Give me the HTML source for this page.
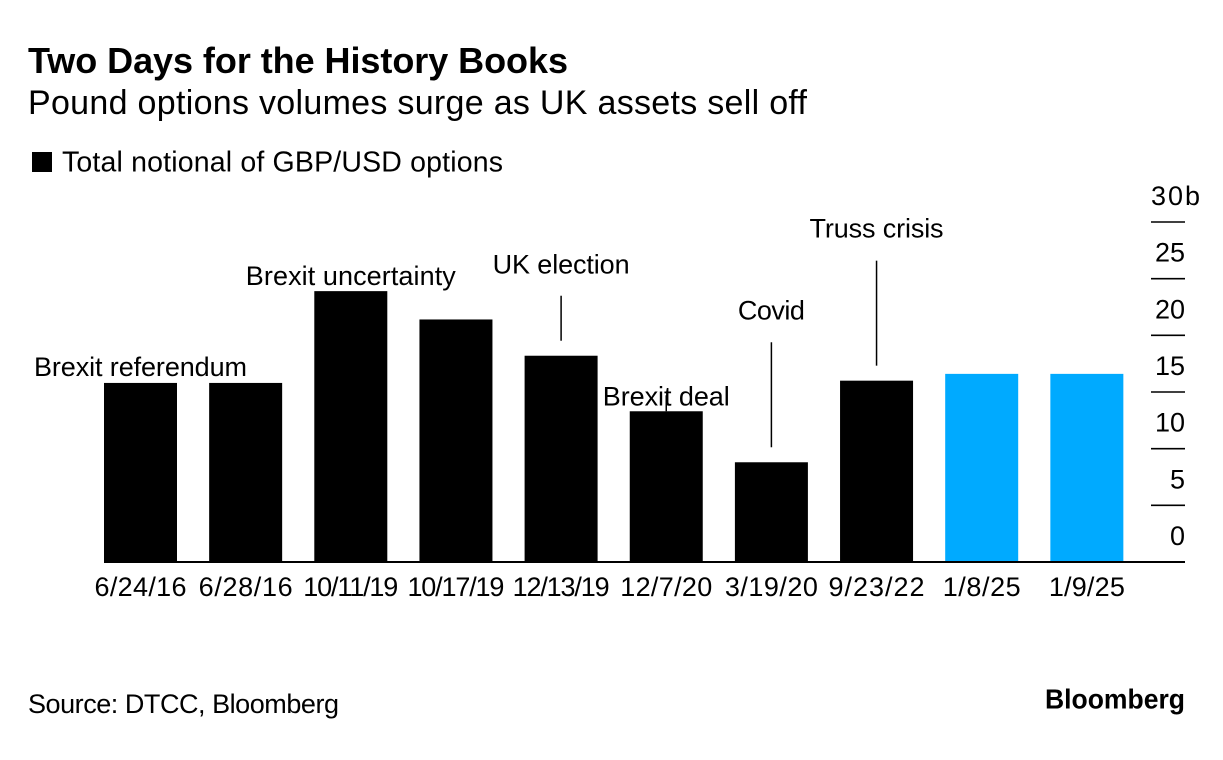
<!DOCTYPE html>
<html lang="en">
<head>
<meta charset="utf-8">
<title>Two Days for the History Books</title>
<style>
  html, body { margin: 0; padding: 0; background: #fff; }
  svg { display: block; font-family: "Liberation Sans", sans-serif; fill: #000; }
</style>
</head>
<body>
<svg id="chart" xmlns="http://www.w3.org/2000/svg" width="1223" height="760" viewBox="0 0 1223 760">
  <rect x="0" y="0" width="1223" height="760" fill="#fff"/>
  <text x="28" y="73" font-size="36" font-weight="700" textLength="540" lengthAdjust="spacing">Two Days for the History Books</text>
  <text x="28" y="114" font-size="34" textLength="779" lengthAdjust="spacing">Pound options volumes surge as UK assets sell off</text>
  <rect x="32" y="152" width="20" height="20" fill="#000"/>
  <text x="62" y="171.5" font-size="28.5" textLength="441" lengthAdjust="spacing">Total notional of GBP/USD options</text>
  <g id="bars"></g>
  <g id="annotations"></g>
  <g id="y-axis"></g>
  <g id="x-axis"></g>
  <text x="28" y="713" font-size="27" textLength="311" lengthAdjust="spacing">Source: DTCC, Bloomberg</text>
  <text x="1045" y="708.5" font-size="28" font-weight="700" textLength="140" lengthAdjust="spacingAndGlyphs">Bloomberg</text>
</svg>
<script>
const categories = ["6/24/16","6/28/16","10/11/19","10/17/19","12/13/19","12/7/20","3/19/20","9/23/22","1/8/25","1/9/25"];
const values = [15.8,15.8,23.9,21.4,18.2,13.3,8.8,16.0,16.6,16.6];
const highlighted = [false,false,false,false,false,false,false,false,true,true];
const yTicks = [0,5,10,15,20,25,30];
const yTickLabels = ["0","5","10","15","20","25","30b"];
const annotationLabels = ["Brexit referendum","","Brexit uncertainty","","UK election","Brexit deal","Covid","Truss crisis","",""];

const NS = "http://www.w3.org/2000/svg";
const plot = { left: 104, step: 105.15, barWidth: 73, base: 562, top: 222, max: 30, tickX1: 1151, tickX2: 1185 };
const yScale = v => plot.base - (v / plot.max) * (plot.base - plot.top);
const xScale = i => plot.left + i * plot.step;
const xCenter = i => xScale(i) + plot.barWidth / 2;

// Text-fitting widths, matched to the reference typeface's metrics
const fontSizeLabel = 27;
const labelFit = {
  "6/24/16": 92, "6/28/16": 94, "10/11/19": 95, "10/17/19": 97, "12/13/19": 97,
  "12/7/20": 92, "3/19/20": 93, "9/23/22": 96, "1/8/25": 78, "1/9/25": 76,
  "Brexit referendum": 213, "Brexit uncertainty": 210, "UK election": 137,
  "Brexit deal": 127, "Covid": 67, "Truss crisis": 134, "30b": 49
};

// Annotation layout: gap between label baseline and bar top, and optional leader line
const annotationLayout = {
  "Brexit referendum": { labelRise: 7, dx: 0, line: null },
  "Brexit uncertainty": { labelRise: 6, dx: 0, line: null },
  "UK election": { labelRise: 82, dx: 0, line: [15, 60] },
  "Brexit deal": { labelRise: 6, dx: 0, line: [0, 16] },
  "Covid": { labelRise: 143, dx: 0, line: [15, 120] },
  "Truss crisis": { labelRise: 143, dx: 0, line: [15, 120] }
};

function make(tag, attrs, text) {
  const el = document.createElementNS(NS, tag);
  for (const k in attrs) el.setAttribute(k, attrs[k]);
  if (text !== undefined) el.textContent = text;
  if (text !== undefined && labelFit[text]) {
    el.setAttribute("textLength", labelFit[text]);
    el.setAttribute("lengthAdjust", "spacing");
  }
  return el;
}

const barsG = document.getElementById("bars");
values.forEach((v, i) => {
  const rect = make("rect", {
    x: xScale(i), y: yScale(v), width: plot.barWidth, height: plot.base - yScale(v),
    fill: highlighted[i] ? "#00aaff" : "#000"
  });
  
  
  barsG.appendChild(rect);
});

const annG = document.getElementById("annotations");
annotationLabels.forEach((label, i) => {
  if (!label) return;
  const cfg = annotationLayout[label];
  const top = yScale(values[i]);
  const cx = xCenter(i);
  const t = make("text", { x: cx + cfg.dx, y: top - cfg.labelRise, "font-size": fontSizeLabel, "text-anchor": "middle" }, label);
  
  
  annG.appendChild(t);
  if (cfg.line) {
    const ln = make("line", { x1: cx, x2: cx, y1: top - cfg.line[0], y2: top - cfg.line[1], stroke: "#000", "stroke-width": 1.5 });
    
    
    annG.appendChild(ln);
  }
});

const yG = document.getElementById("y-axis");
yTicks.forEach((v, i) => {
  const y = yScale(v);
  if (v !== 0) {
    const ln = make("line", { x1: plot.tickX1, x2: plot.tickX2, y1: y, y2: y, stroke: "#000", "stroke-width": 1.6 });
    
    
    yG.appendChild(ln);
  }
  const isTop = i === yTicks.length - 1;
  const t = make("text", {
    x: isTop ? plot.tickX1 : plot.tickX2,
    y: y - 17,
    "font-size": fontSizeLabel,
    "text-anchor": isTop ? "start" : "end"
  }, yTickLabels[i]);
  
  
  yG.appendChild(t);
});

const xG = document.getElementById("x-axis");
const baseline = make("line", { x1: plot.left, x2: plot.tickX2, y1: plot.base, y2: plot.base, stroke: "#000", "stroke-width": 2 });


xG.appendChild(baseline);
categories.forEach((c, i) => {
  const t = make("text", { x: xCenter(i), y: plot.base + 34, "font-size": fontSizeLabel, "text-anchor": "middle" }, c);
  
  
  xG.appendChild(t);
});
</script>
</body>
</html>
